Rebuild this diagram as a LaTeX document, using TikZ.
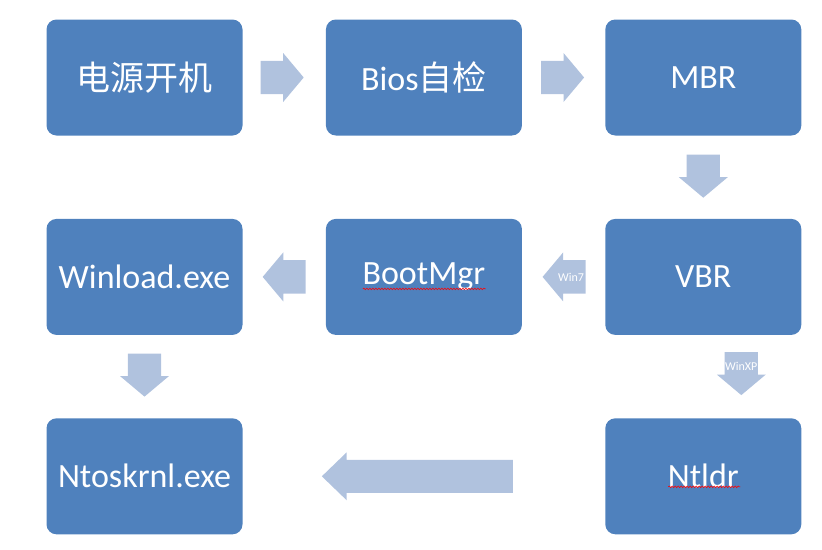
\documentclass[tikz,border=0pt]{standalone}
\usepackage{fontspec}
\setmainfont{Carlito}
\newfontfamily\cjk{Noto Sans CJK SC}
\usepackage{tikz}
\usetikzlibrary{shapes.arrows, positioning, calc, decorations.pathmorphing}
\definecolor{boxblue}{HTML}{4F81BD}
\definecolor{arrowblue}{HTML}{B0C2DE}

\begin{document}
\begin{tikzpicture}[
    x=1pt, y=-1pt,
    node distance=83pt,
    box/.style={rectangle, rounded corners=10pt, fill=boxblue, minimum width=196pt, minimum height=116pt, align=center, text=white, font=\fontsize{34}{36}\selectfont},
    blk/.style={single arrow, fill=arrowblue, minimum height=43pt, minimum width=49pt, single arrow tip angle=100},
    harrow/.style={blk, inner xsep=0pt, inner ysep=15pt},
    varrow/.style={blk, shape border rotate=270, inner xsep=15pt, inner ysep=0pt},
    tag/.style={text=white, inner sep=0pt, font=\fontsize{12}{13}\selectfont},
    wavy/.style={red, line width=0.6pt, decorate, decoration={snake, amplitude=0.8pt, segment length=3pt}}
]
    \useasboundingbox (0,0) rectangle (822,549);

    \node[box] (power) at (144.5,77.5) {\cjk 电源开机};
    \node[box, right=of power] (bios) {Bios{\cjk 自检}};
    \node[box, right=of bios] (mbr) {MBR};
    \node[box, below=of mbr] (vbr) {VBR};
    \node[box, left=of vbr] (bootmgr) {BootMgr};
    \node[box, left=of bootmgr] (winload) {Winload.exe};
    \node[box, below=of winload] (ntoskrnl) {Ntoskrnl.exe};
    \node[box, below=of vbr] (ntldr) {Ntldr};

    \node[harrow, xshift=-9pt] (a1) at ($(power.east)!0.5!(bios.west)$) {};
    \node[harrow, xshift=-8pt] (a2) at ($(bios.east)!0.5!(mbr.west)$) {};
    \node[varrow, yshift=8pt] (a3) at ($(mbr.south)!0.5!(vbr.north)$) {};
    \node[harrow, shape border rotate=180, xshift=7.5pt, label={[tag]center:Win7}] (a4) at ($(vbr.west)!0.5!(bootmgr.east)$) {};
    \node[harrow, shape border rotate=180, xshift=7pt] (a5) at ($(bootmgr.west)!0.5!(winload.east)$) {};
    \node[varrow, xshift=38pt, yshift=10pt, label={[tag]center:WinXP}] (a6) at ($(vbr.south)!0.5!(ntldr.north)$) {};
    \node[varrow, yshift=8.5pt] (a7) at ($(winload.south)!0.5!(ntoskrnl.north)$) {};
    \node[harrow, shape border rotate=180, minimum height=191pt, minimum width=48pt, inner ysep=15.5pt, single arrow tip angle=88] (a8) at ($(ntldr.west)!0.5!(ntoskrnl.east)+(2,0)$) {};

    % spell-check marks
    \draw[wavy] ($(bootmgr.center)+(-61,12)$) -- ($(bootmgr.center)+(62,12)$);
    \draw[wavy] ($(ntldr.center)+(-35,10.5)$) -- ($(ntldr.center)+(37,10.5)$);
\end{tikzpicture}
\end{document}
